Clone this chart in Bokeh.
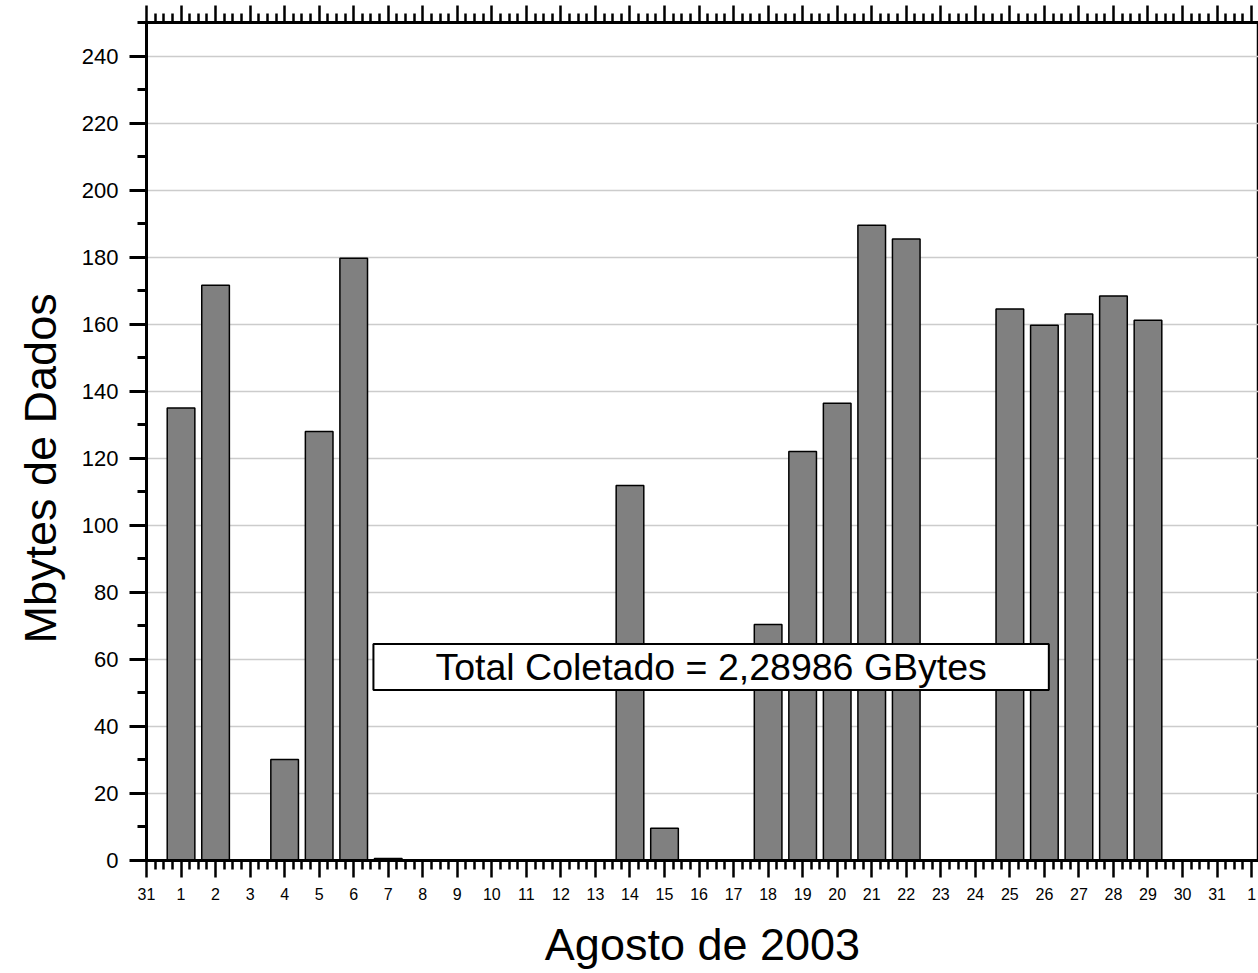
from bokeh.plotting import figure
from bokeh.models import FixedTicker, SingleIntervalTicker, LinearAxis, Label, Range1d, Title
from bokeh.embed import file_html
from bokeh.resources import INLINE

# ---- data ----
# x position 0 = 31 July, 1..31 = August days, 32 = 1 September
tick_days = list(range(0, 33))
tick_labels = ["31"] + [str(d) for d in range(1, 32)] + ["1"]
minor_days = [d + q / 4 for d in range(0, 33) for q in (1, 2, 3)]
bar_days = [1, 2, 4, 5, 6, 7, 14, 15, 18, 19, 20, 21, 22, 25, 26, 27, 28, 29]
mbytes = [135.0, 171.6, 30.1, 128.0, 179.7, 0.6, 111.9, 9.6, 70.4, 122.0,
          136.4, 189.5, 185.4, 164.5, 159.7, 163.0, 168.4, 161.2]
annotation_text = "Total Coletado = 2,28986 GBytes"
x_title = "Agosto de 2003"
y_title = "Mbytes de Dados"

FONT = "Liberation Sans"

p = figure(width=1258, height=972, output_backend="svg", toolbar_location=None,
           x_range=Range1d(0, 32.2), y_range=Range1d(0, 250),
           min_border_left=146, min_border_right=0, min_border_top=22,
           min_border_bottom=0)

p.vbar(x=bar_days, top=mbytes, bottom=0, width=0.8,
       fill_color="#808080", line_color="black", line_width=1.5)

xt = FixedTicker(ticks=tick_days, minor_ticks=minor_days)

# bottom axis
xa = p.xaxis[0]
xa.ticker = xt
xa.major_label_overrides = {d: lab for d, lab in zip(tick_days, tick_labels)}
xa.axis_label = x_title

# top axis (ticks only, no labels)
top = LinearAxis(ticker=xt, major_label_overrides={d: "" for d in tick_days},
                 major_label_text_font_size="1px", major_label_standoff=0)
p.add_layout(top, "above")

for ax in (xa, top):
    ax.axis_line_width = 3
    ax.axis_line_color = "black"
    ax.major_tick_line_width = 2.5
    ax.minor_tick_line_width = 2.5
    ax.major_tick_line_color = "black"
    ax.minor_tick_line_color = "black"
    ax.major_tick_in = 0
    ax.minor_tick_in = 0
    ax.major_tick_out = 17
    ax.minor_tick_out = 9

xa.major_label_text_font = FONT
xa.major_label_text_font_size = "16px"
xa.major_label_text_color = "black"
xa.major_label_standoff = 10
xa.axis_label_text_font = FONT
xa.axis_label_text_font_size = "45px"
xa.axis_label_text_font_style = "normal"
xa.axis_label_text_color = "black"
xa.axis_label_standoff = 16

ya = p.yaxis[0]
ya.ticker = SingleIntervalTicker(interval=20, num_minor_ticks=2)
ya.axis_line_width = 3
ya.axis_line_color = "black"
ya.major_tick_line_width = 3
ya.minor_tick_line_width = 3
ya.major_tick_in = 0
ya.minor_tick_in = 0
ya.major_tick_out = 17
ya.minor_tick_out = 9
ya.major_label_text_font = FONT
ya.major_label_text_font_size = "22px"
ya.major_label_text_color = "black"
ya.major_label_standoff = 11

# y-axis title as a side title, so it can sit a little below centre like the original
yt = Title(text=y_title, align="left", vertical_align="bottom", offset=217,
           standoff=25, text_font=FONT, text_font_size="45px",
           text_font_style="normal", text_color="black")
p.add_layout(yt, "left")

p.xgrid.visible = False
p.ygrid.grid_line_color = "#cccccc"
p.ygrid.grid_line_width = 1.5
p.outline_line_color = "black"
p.outline_line_width = 1.5

lab = Label(x=16.35, y=57.7, text=annotation_text, text_align="center",
            text_baseline="middle", text_font=FONT, text_font_size="37.5px",
            text_color="black", background_fill_color="white",
            border_line_color="black", border_line_width=2,
            padding=(62, 2))
p.add_layout(lab)

open("out.html", "w").write(file_html(p, INLINE))
